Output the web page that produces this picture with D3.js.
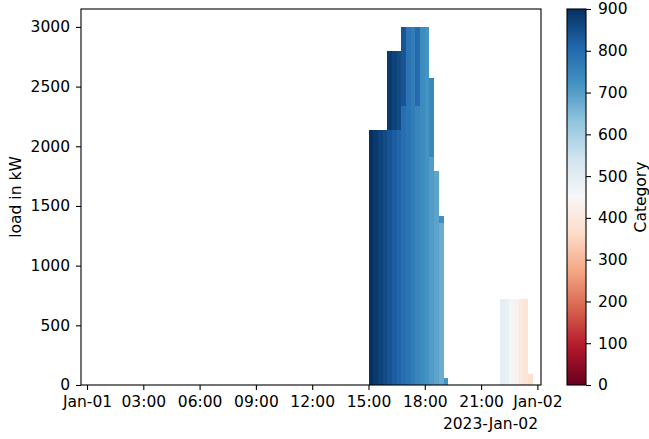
<!DOCTYPE html>
<html>
<head>
<meta charset="utf-8">
<script src="https://cdn.jsdelivr.net/npm/d3@7"></script>
<style>
  body { margin: 0; background: #fff; }
  text { font-family: "DejaVu Sans", sans-serif; fill: #000; }
</style>
</head>
<body>
<svg id="chart" width="649" height="439"></svg>
<script>
// 15 minute slots, start time of each bar
const slotTimes = ["15:00", "15:15", "15:30", "15:45", "16:00", "16:15", "16:30", "16:45",
  "17:00", "17:15", "17:30", "17:45", "18:00", "18:15", "18:30", "18:45", "19:00",
  "22:00", "22:15", "22:30", "22:45", "23:00", "23:15", "23:30"];
// lower part of each stack (kW) and its category
const baseLoad = [2133, 2133, 2133, 2133, 2133, 2133, 2133, 2337,
  2337, 2337, 2337, 2337, 2337, 1913, 1793, 1360, 60,
  720, 720, 720, 720, 720, 720, 92];
const baseCat = [900, 885, 870, 855, 840, 825, 810, 795,
  780, 765, 750, 735, 720, 705, 690, 675, 720,
  495, 480, 460, 430, 405, 392, 380];
// upper part of each stack (kW) and its category
const topLoad = [0, 0, 0, 0, 667, 667, 667, 663,
  663, 663, 663, 663, 663, 659, 0, 56, 0,
  0, 0, 0, 0, 0, 0, 0];
const topCat = [null, null, null, null, 885, 870, 855, 840,
  780, 765, 800, 735, 720, 745, null, 730, null,
  null, null, null, null, null, null, null];

const yTicks = [0, 500, 1000, 1500, 2000, 2500, 3000];
const cbTicks = [0, 100, 200, 300, 400, 500, 600, 700, 800, 900];
// matplotlib RdBu
const rdbu = ["#67001f", "#b2182b", "#d6604d", "#f4a582", "#fddbc7", "#f7f7f7",
  "#d1e5f0", "#92c5de", "#4393c3", "#2166ac", "#053061"];

const svg = d3.select("#chart");
const L = 81, R = 541, T = 9, B = 385;
const fs = 15.5;

const day0 = Date.UTC(2023, 0, 1), day1 = Date.UTC(2023, 0, 2);
const x = d3.scaleUtc().domain([day0, day1]).range([87, 537.4]);
const y = d3.scaleLinear().domain([0, 3150]).range([B, T]);
const color = d3.scaleLinear()
  .domain(d3.range(11).map(i => i * 90))
  .range(rdbu)
  .interpolate(d3.interpolateRgb);

const toDate = s => {
  const [h, m] = s.split(":").map(Number);
  return new Date(day0 + (h * 60 + m) * 60000);
};

const rows = slotTimes.map((t, i) => ({ t: toDate(t), base: baseLoad[i], top: topLoad[i], i }));
const stacked = d3.stack().keys(["base", "top"])(rows);
const cats = { base: baseCat, top: topCat };

stacked.forEach(layer => {
  svg.append("g").selectAll("rect")
    .data(layer.filter(d => d[1] > d[0]))
    .enter().append("rect")
      .attr("x", d => x(d.data.t))
      .attr("width", d => x(d3.utcMinute.offset(d.data.t, 15)) - x(d.data.t))
      .attr("y", d => y(d[1]))
      .attr("height", d => y(d[0]) - y(d[1]))
      .attr("fill", d => color(cats[layer.key][d.data.i]))
      .attr("shape-rendering", "crispEdges");
});

// axes
const fmt = d => d.getUTCHours() === 0 ? d3.utcFormat("%b-%d")(d) : d3.utcFormat("%H:%M")(d);
const gx = svg.append("g").attr("transform", `translate(0,${B})`)
  .call(d3.axisBottom(x).ticks(d3.utcHour.every(3)).tickFormat(fmt).tickSize(5).tickPadding(6));
const gy = svg.append("g").attr("transform", `translate(${L},0)`)
  .call(d3.axisLeft(y).tickValues(yTicks).tickFormat(d3.format("d")).tickSize(5).tickPadding(6));
[gx, gy].forEach(g => {
  g.select(".domain").remove();
  g.selectAll("line").attr("stroke", "#000").attr("stroke-width", 1.1);
  g.selectAll("text").attr("font-size", fs).attr("font-family", "DejaVu Sans");
});

svg.append("rect").attr("x", L).attr("y", T).attr("width", R - L).attr("height", B - T)
  .attr("fill", "none").attr("stroke", "#000").attr("stroke-width", 1.1);

svg.append("text").attr("font-size", fs).attr("text-anchor", "end")
  .attr("x", R - 3).attr("y", 429).text("2023-Jan-02");

svg.append("text").attr("font-size", fs).attr("text-anchor", "middle")
  .attr("transform", `translate(21,${(T + B) / 2}) rotate(-90)`).text("load in kW");

// colorbar
const cbX = 567, cbW = 19;
const cy = d3.scaleLinear().domain([0, 900]).range([B, T]);
const grad = svg.append("defs").append("linearGradient")
  .attr("id", "cb").attr("x1", 0).attr("y1", 1).attr("x2", 0).attr("y2", 0);
grad.selectAll("stop").data(d3.range(11)).enter().append("stop")
  .attr("offset", d => d / 10).attr("stop-color", d => rdbu[d]);
svg.append("rect").attr("x", cbX).attr("y", T).attr("width", cbW).attr("height", B - T)
  .attr("fill", "url(#cb)").attr("stroke", "#000").attr("stroke-width", 1.1);
const gc = svg.append("g").attr("transform", `translate(${cbX + cbW},0)`)
  .call(d3.axisRight(cy).tickValues(cbTicks).tickSize(5).tickPadding(7));
gc.select(".domain").remove();
gc.selectAll("line").attr("stroke", "#000").attr("stroke-width", 1.1);
gc.selectAll("text").attr("font-size", fs).attr("font-family", "DejaVu Sans");

svg.append("text").attr("font-size", fs).attr("text-anchor", "middle")
  .attr("transform", `translate(646,${(T + B) / 2}) rotate(-90)`).text("Category");
</script>
</body>
</html>
